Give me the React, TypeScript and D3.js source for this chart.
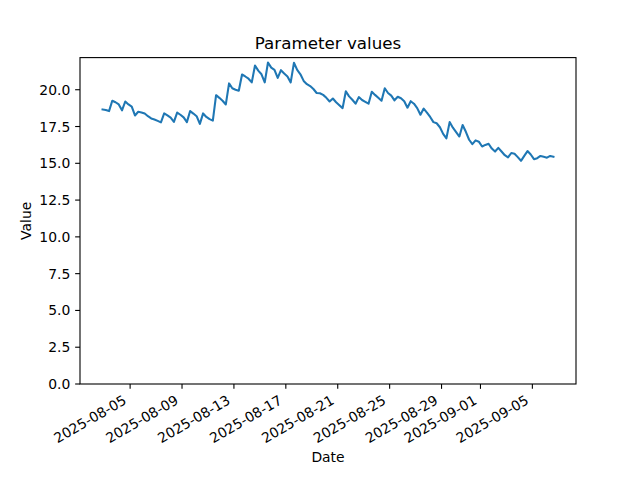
import React from "react";
import * as d3 from "d3";

const START = "2025-08-02T21:00:00";
const STEP_HOURS = 6;

const values: number[] = [
  18.66, 18.62, 18.55, 19.25, 19.15, 19.0, 18.6, 19.2, 19.0, 18.85,
  18.25, 18.5, 18.45, 18.38, 18.2, 18.05, 17.98, 17.88, 17.78, 18.39,
  18.25, 18.1, 17.82, 18.45, 18.3, 18.12, 17.8, 18.55, 18.38, 18.2,
  17.68, 18.39, 18.15, 18.0, 17.9, 19.63, 19.45, 19.25, 19.0, 20.43,
  20.1, 20.0, 19.93, 21.04, 20.9, 20.75, 20.5, 21.65, 21.3, 21.05,
  20.5, 21.85, 21.5, 21.35, 20.8, 21.33, 21.1, 20.9, 20.5, 21.83,
  21.35, 21.05, 20.6, 20.38, 20.25, 20.05, 19.78, 19.76, 19.65, 19.45,
  19.2, 19.4, 19.15, 18.95, 18.75, 19.9, 19.55, 19.32, 19.05, 19.5,
  19.3, 19.18, 19.05, 19.86, 19.65, 19.45, 19.25, 20.1, 19.78, 19.6,
  19.28, 19.52, 19.42, 19.22, 18.78, 19.22, 19.05, 18.75, 18.3, 18.72,
  18.45, 18.15, 17.8, 17.72, 17.45, 17.0, 16.7, 17.8, 17.42, 17.12,
  16.82, 17.6, 17.14, 16.6, 16.3, 16.56, 16.47, 16.14, 16.25, 16.33,
  16.0, 15.8, 16.05, 15.8, 15.55, 15.4, 15.7, 15.65, 15.42, 15.17,
  15.5, 15.83, 15.6, 15.28, 15.35, 15.5, 15.44, 15.38, 15.5, 15.45,
];

const xTickLabels = [
  "2025-08-05", "2025-08-09", "2025-08-13", "2025-08-17", "2025-08-21",
  "2025-08-25", "2025-08-29", "2025-09-01", "2025-09-05",
];
const yTickValues = [0, 2.5, 5, 7.5, 10, 12.5, 15, 17.5, 20];

const title = "Parameter values";
const xLabel = "Date";
const yLabel = "Value";

export default function App() {
  const W = 640, H = 480;
  const left = 80, right = 576, top = 57.6, bottom = 384;
  const font = "DejaVu Sans, sans-serif";
  const fs = 13.9;

  const t0 = new Date(START).getTime();
  const data = values.map((v, i) => ({ date: new Date(t0 + i * STEP_HOURS * 3600e3), v }));

  const [dMin, dMax] = d3.extent(data, (d) => d.date.getTime()) as [number, number];
  const span = dMax - dMin;
  const x = d3.scaleTime()
    .domain([new Date(dMin - 0.05 * span), new Date(dMax + 0.05 * span)])
    .range([left, right]);

  const [vMin, vMax] = d3.extent(values) as [number, number];
  const y = d3.scaleLinear()
    .domain([0, vMax + 0.05 * (vMax - vMin)])
    .range([bottom, top]);

  const line = d3.line<{ date: Date; v: number }>()
    .x((d) => x(d.date))
    .y((d) => y(d.v));

  const tickLen = 4.86;
  const tickColor = "#000";
  const textH = 16.2;

  return (
    <svg width={W} height={H} style={{ display: "block", position: "absolute", left: 0, top: 0 }}>
      <rect x={0} y={0} width={W} height={H} fill="#fff" />
      <path d={line(data) || ""} fill="none" stroke="#1f77b4" strokeWidth={2.08} strokeLinejoin="round" strokeLinecap="square" />
      <rect x={left} y={top} width={right - left} height={bottom - top} fill="none" stroke="#000" strokeWidth={1.1} />
      {yTickValues.map((t) => (
        <g key={t}>
          <line x1={left} x2={left - tickLen} y1={y(t)} y2={y(t)} stroke={tickColor} strokeWidth={1.1} />
          <text x={left - tickLen - 4.86} y={y(t)} dy="0.36em" textAnchor="end" fontFamily={font} fontSize={fs} fill="#000">
            {t.toFixed(1)}
          </text>
        </g>
      ))}
      {xTickLabels.map((s) => {
        const tx = x(new Date(s + "T00:00:00"));
        const ty = bottom + tickLen + 4.86;
        return (
          <g key={s}>
            <line x1={tx} x2={tx} y1={bottom} y2={bottom + tickLen} stroke={tickColor} strokeWidth={1.1} />
            <text
              transform={`translate(${tx - textH * 0.5},${ty}) rotate(-30)`}
              dy="0.78em"
              textAnchor="end"
              fontFamily={font}
              fontSize={fs}
              fill="#000"
            >
              {s}
            </text>
          </g>
        );
      })}
      <text x={(left + right) / 2} y={49} textAnchor="middle" fontFamily={font} fontSize={16.7} fill="#000">
        {title}
      </text>
      <text x={(left + right) / 2} y={461.5} textAnchor="middle" fontFamily={font} fontSize={fs} fill="#000">
        {xLabel}
      </text>
      <text transform={`translate(31,${(top + bottom) / 2}) rotate(-90)`} textAnchor="middle" fontFamily={font} fontSize={fs} fill="#000">
        {yLabel}
      </text>
    </svg>
  );
}
